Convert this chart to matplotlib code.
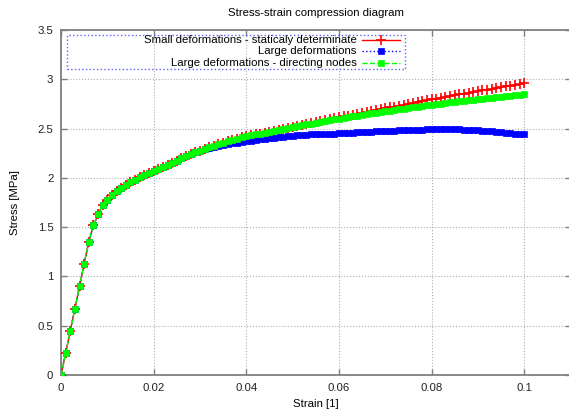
import matplotlib
matplotlib.use("Agg")
import matplotlib.pyplot as plt
from matplotlib.patches import Rectangle
from matplotlib.ticker import FuncFormatter

plt.rcParams['font.family'] = ['Liberation Sans', 'DejaVu Sans']

# strain [1]
strain = [
    0.000, 0.001, 0.002, 0.003, 0.004, 0.005, 0.006, 0.007, 0.008, 0.009,
    0.010, 0.011, 0.012, 0.013, 0.014, 0.015, 0.016, 0.017, 0.018, 0.019,
    0.020, 0.021, 0.022, 0.023, 0.024, 0.025, 0.026, 0.027, 0.028, 0.029,
    0.030, 0.031, 0.032, 0.033, 0.034, 0.035, 0.036, 0.037, 0.038, 0.039,
    0.040, 0.041, 0.042, 0.043, 0.044, 0.045, 0.046, 0.047, 0.048, 0.049,
    0.050, 0.051, 0.052, 0.053, 0.054, 0.055, 0.056, 0.057, 0.058, 0.059,
    0.060, 0.061, 0.062, 0.063, 0.064, 0.065, 0.066, 0.067, 0.068, 0.069,
    0.070, 0.071, 0.072, 0.073, 0.074, 0.075, 0.076, 0.077, 0.078, 0.079,
    0.080, 0.081, 0.082, 0.083, 0.084, 0.085, 0.086, 0.087, 0.088, 0.089,
    0.090, 0.091, 0.092, 0.093, 0.094, 0.095, 0.096, 0.097, 0.098, 0.099,
    0.100,
]

# stress [MPa], small deformations - staticaly determinate
stress_small = [
    0.00, 0.22, 0.45, 0.67, 0.90, 1.13, 1.35, 1.52, 1.63, 1.72,
    1.78, 1.83, 1.87, 1.90, 1.93, 1.96, 1.98, 2.01, 2.03, 2.05,
    2.07, 2.09, 2.11, 2.13, 2.15, 2.17, 2.20, 2.22, 2.24, 2.26,
    2.27, 2.29, 2.31, 2.32, 2.34, 2.35, 2.37, 2.38, 2.39, 2.41,
    2.42, 2.43, 2.44, 2.45, 2.46, 2.47, 2.48, 2.49, 2.50, 2.51,
    2.52, 2.53, 2.54, 2.55, 2.56, 2.57, 2.58, 2.59, 2.60, 2.61,
    2.62, 2.63, 2.63, 2.64, 2.65, 2.66, 2.67, 2.68, 2.69, 2.70,
    2.71, 2.72, 2.72, 2.73, 2.74, 2.75, 2.76, 2.77, 2.78, 2.79,
    2.80, 2.80, 2.81, 2.82, 2.83, 2.84, 2.85, 2.85, 2.86, 2.87,
    2.88, 2.89, 2.89, 2.90, 2.91, 2.92, 2.93, 2.93, 2.94, 2.95,
    2.96,
]

# large deformations
stress_large = [
    0.00, 0.22, 0.45, 0.67, 0.90, 1.13, 1.35, 1.52, 1.63, 1.72,
    1.78, 1.83, 1.87, 1.90, 1.93, 1.96, 1.98, 2.01, 2.03, 2.05,
    2.07, 2.09, 2.11, 2.13, 2.15, 2.17, 2.20, 2.22, 2.24, 2.26,
    2.27, 2.29, 2.30, 2.31, 2.32, 2.33, 2.34, 2.35, 2.35, 2.36,
    2.37, 2.37, 2.38, 2.39, 2.39, 2.40, 2.40, 2.41, 2.41, 2.42,
    2.42, 2.43, 2.43, 2.43, 2.44, 2.44, 2.44, 2.45, 2.45, 2.45,
    2.46, 2.46, 2.46, 2.46, 2.47, 2.47, 2.47, 2.47, 2.48, 2.48,
    2.48, 2.48, 2.48, 2.49, 2.49, 2.49, 2.49, 2.49, 2.49, 2.50,
    2.50, 2.50, 2.50, 2.50, 2.50, 2.50, 2.50, 2.49, 2.49, 2.49,
    2.49, 2.48, 2.48, 2.48, 2.47, 2.47, 2.46, 2.46, 2.45, 2.45,
    2.44,
]

# large deformations - directing nodes
stress_directing = [
    0.00, 0.22, 0.45, 0.67, 0.90, 1.13, 1.35, 1.52, 1.63, 1.72,
    1.78, 1.83, 1.87, 1.90, 1.93, 1.96, 1.98, 2.01, 2.03, 2.05,
    2.07, 2.09, 2.11, 2.13, 2.15, 2.17, 2.20, 2.22, 2.24, 2.26,
    2.27, 2.29, 2.31, 2.32, 2.34, 2.35, 2.37, 2.38, 2.39, 2.41,
    2.42, 2.43, 2.44, 2.45, 2.46, 2.47, 2.48, 2.49, 2.50, 2.51,
    2.52, 2.53, 2.54, 2.55, 2.55, 2.56, 2.57, 2.58, 2.59, 2.60,
    2.60, 2.61, 2.62, 2.63, 2.63, 2.64, 2.65, 2.66, 2.66, 2.67,
    2.68, 2.68, 2.69, 2.70, 2.70, 2.71, 2.72, 2.72, 2.73, 2.74,
    2.74, 2.75, 2.75, 2.76, 2.77, 2.77, 2.78, 2.78, 2.79, 2.79,
    2.80, 2.80, 2.81, 2.81, 2.82, 2.82, 2.83, 2.83, 2.84, 2.84,
    2.85,
]

labels = [
    "Small deformations - staticaly determinate",
    "Large deformations",
    "Large deformations - directing nodes",
]

x_ticks = [0, 0.02, 0.04, 0.06, 0.08, 0.1]
y_ticks = [0, 0.5, 1, 1.5, 2, 2.5, 3, 3.5]

FS = 8.2
FRAME = '#808080'

fig = plt.figure(figsize=(5.69, 4.12), dpi=100)
ax = fig.add_axes([61 / 569, 1 - 375 / 412, 509.5 / 569, 345 / 412])

styles = [
    dict(color='#ff0000', linestyle='-', marker='+', markersize=6.5, markeredgewidth=1.2, linewidth=1.0),
    dict(color='#0000ff', linestyle=':', marker='s', markersize=4.3, markeredgewidth=0.5, linewidth=1.0),
    dict(color='#00ff00', linestyle='--', marker='s', markersize=4.8, markeredgewidth=0.5, linewidth=1.0),
]
series = [stress_small, stress_large, stress_directing]

for ys, st in zip(series, styles):
    ax.plot(strain, ys, zorder=3, **st)

ax.set_xlim(0, 0.11)
ax.set_ylim(0, 3.5)
ax.set_xticks(x_ticks)
ax.set_yticks(y_ticks)
fmt = FuncFormatter(lambda v, p: '%g' % round(v, 6))
ax.xaxis.set_major_formatter(fmt)
ax.yaxis.set_major_formatter(fmt)

ax.grid(True, color='#b0b0b0', linestyle=':', linewidth=0.8)
ax.tick_params(direction='in', length=4, width=1, color=FRAME,
               top=True, right=True, labelsize=FS, labelcolor='#222222')
ax.tick_params(axis='x', pad=5.5)
ax.tick_params(axis='y', pad=5.5)
for sp in ax.spines.values():
    sp.set_color(FRAME)
    sp.set_linewidth(1.3)

ax.set_title("Stress-strain compression diagram", fontsize=FS, pad=10)
ax.set_xlabel("Strain [1]", fontsize=FS, labelpad=4.5)
ax.set_ylabel("Stress [MPa]", fontsize=FS, labelpad=12.5)

# gnuplot style key: right aligned text, sample after text, dotted blue box
ax.add_patch(Rectangle((0.0124, 0.887), 0.6628, 0.0985, transform=ax.transAxes,
                       fill=False, edgecolor='#6060ff', linestyle=':', linewidth=1.0,
                       clip_on=False, zorder=4))
rows = [0.971, 0.939, 0.9035]
for lab, st, yy in zip(labels, styles, rows):
    ax.text(0.5804, yy, lab, transform=ax.transAxes, ha='right', va='center',
            fontsize=FS, zorder=5)
    ax.plot([0.590, 0.6277, 0.6654], [yy, yy, yy], transform=ax.transAxes,
            markevery=[1], clip_on=False, zorder=5, **st)

fig.savefig("out.png", dpi=100)
